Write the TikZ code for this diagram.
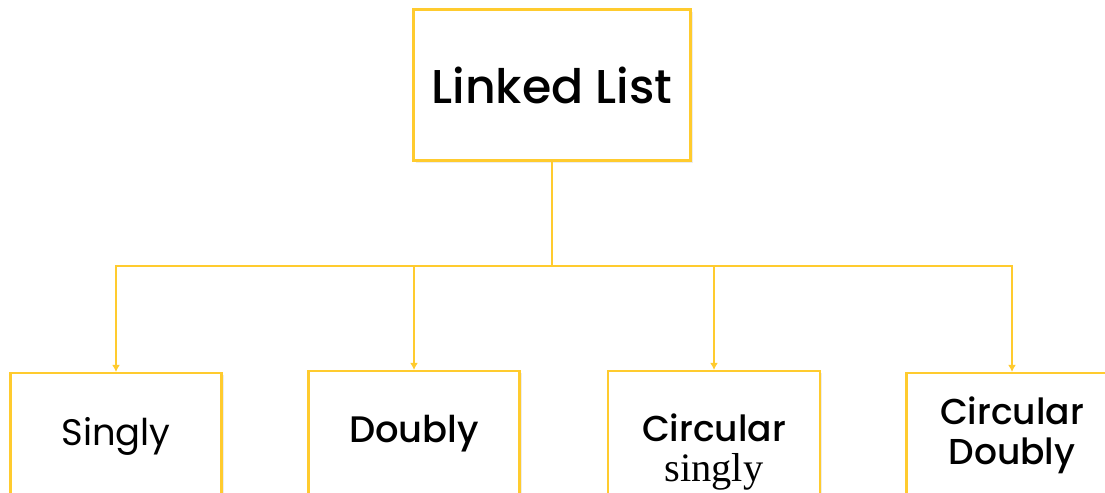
\documentclass[tikz,border=0pt]{standalone}
\usepackage{fontspec}
\setmainfont{Poppins}
\newfontfamily\mediumfont{Poppins Medium}
\newfontfamily\serifpart{Liberation Serif}
\usetikzlibrary{arrows.meta,shadows}
\definecolor{listgold}{HTML}{FFCB2E}

\begin{document}
\begin{tikzpicture}[x=0.02cm, y=-0.02cm, >={Latex[length=4pt,width=4.5pt]},
  box/.style={draw=listgold, line width=1.2pt, fill=white, align=center, inner sep=0pt,
    drop shadow={opacity=0.15, shadow xshift=1.2pt, shadow yshift=-1.2pt}},
  link/.style={draw=listgold, line width=0.85pt}]
\clip (0,0) rectangle (1105,493);
\fill[white] (0,0) rectangle (1105,493);
% root of the tree
\node[box, minimum width=5.54cm, minimum height=3.02cm, font=\mediumfont\fontsize{27}{30}\selectfont] (root) at (552,85) {Linked List};
% the four kinds
\node[box, minimum width=4.22cm, minimum height=2.52cm, font=\fontsize{21}{23}\selectfont] (singly) at (116,436) {Singly};
\node[box, minimum width=4.22cm, minimum height=2.52cm, font=\mediumfont\fontsize{21}{23}\selectfont] (doubly) at (414,434) {Doubly};
\node[box, minimum width=4.24cm, minimum height=3.24cm, font=\mediumfont\fontsize{20.5}{21}\selectfont] (csingly) at (714,452) {Circular\\[2pt]{\serifpart\fontsize{23}{23}\selectfont singly}};
\node[box, minimum width=4.22cm, minimum height=2.48cm, font=\mediumfont\fontsize{20.5}{23}\selectfont] (cdoubly) at (1012,435) {Circular\\Doubly};
\coordinate (split) at (552,266);
\draw[link] (root) -- (split);
\draw[link, ->] (split) -| (singly);
\draw[link, ->] (split) -| (doubly);
\draw[link, ->] (split) -| (csingly);
\draw[link, ->] (split) -| (cdoubly);
\end{tikzpicture}
\end{document}
